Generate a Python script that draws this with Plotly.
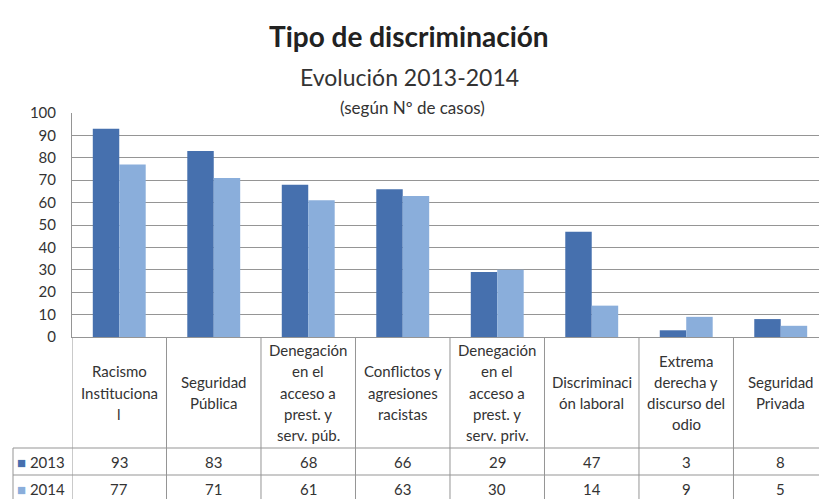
import plotly.graph_objects as go

# data
categories = [
    "Racismo<br>Instituciona<br>l",
    "Seguridad<br>Pública",
    "Denegación<br>en el<br>acceso a<br>prest. y<br>serv. púb.",
    "Conflictos y<br>agresiones<br>racistas",
    "Denegación<br>en el<br>acceso a<br>prest. y<br>serv. priv.",
    "Discriminaci<br>ón laboral",
    "Extrema<br>derecha y<br>discurso del<br>odio",
    "Seguridad<br>Privada",
]
years = ["2013", "2014"]
casos_2013 = [93, 83, 68, 66, 29, 47, 3, 8]
casos_2014 = [77, 71, 61, 63, 30, 14, 9, 5]

colors = {"2013": "#4670AE", "2014": "#8AAEDB"}
FONT = "Lato, 'Open Sans', sans-serif"
TXT = "#333333"
LINE = "#959595"

x = list(range(len(categories)))
fig = go.Figure()
for yr, vals in zip(years, [casos_2013, casos_2014]):
    fig.add_trace(go.Bar(x=x, y=vals, name=yr, marker_color=colors[yr],
                         marker_line_width=0))

# pixel -> paper helpers (plot area 72..819 x, 113..337 y)
def py(px):
    return (337 - px) / 224.0

def pxx(px):
    return (px - 72) / 747.0

ann = []
# titles
ann.append(dict(text="<b>Tipo de discriminación</b>", x=pxx(409), y=py(36),
                font=dict(size=28, color="#222")))
ann.append(dict(text="Evolución 2013-2014", x=pxx(409), y=py(77),
                font=dict(size=23, color="#333")))
ann.append(dict(text="(según Nº de casos)", x=pxx(412), y=py(107),
                font=dict(size=17, color="#333")))
for a in ann:
    a.update(xref="paper", yref="paper", showarrow=False,
             xanchor="center", yanchor="middle")

# table header: category labels
for i, cat in enumerate(categories):
    lines = cat.split("<br>")
    n = len(lines)
    for j, ln in enumerate(lines):
        ann.append(dict(text=ln, x=i, xref="x", y=py(392.5), yref="paper",
                        yshift=-(j - (n - 1) / 2) * 21.3, showarrow=False,
                        xanchor="center", yanchor="middle",
                        font=dict(size=15, color=TXT, family=FONT)))

# table rows: values
row_y = {"2013": py(462), "2014": py(489)}
for yr, vals in zip(years, [casos_2013, casos_2014]):
    ann.append(dict(text=f"<span style='color:{colors[yr]}'>■</span> {yr}",
                    x=pxx(15), xref="paper", y=row_y[yr], yref="paper",
                    xanchor="left", yanchor="middle", showarrow=False,
                    font=dict(size=15, color=TXT, family=FONT)))
    for i, v in enumerate(vals):
        ann.append(dict(text=str(v), x=i, xref="x", y=row_y[yr], yref="paper",
                        xanchor="center", yanchor="middle", showarrow=False,
                        font=dict(size=15, color=TXT, family=FONT)))

# table borders
shapes = []
for k in range(len(categories) + 1):
    shapes.append(dict(type="line", xref="x", yref="paper", x0=k - 0.5, x1=k - 0.5,
                       y0=0, y1=py(510), line=dict(color=LINE, width=1)))
for yy in [448, 475]:
    shapes.append(dict(type="line", xref="paper", yref="paper", x0=pxx(13), x1=1,
                       y0=py(yy), y1=py(yy), line=dict(color=LINE, width=1)))
shapes.append(dict(type="line", xref="paper", yref="paper", x0=pxx(13), x1=pxx(13),
                   y0=py(448), y1=py(510), line=dict(color=LINE, width=1)))

fig.update_layout(
    width=819, height=499,
    margin=dict(l=72, r=0, t=113, b=162),
    paper_bgcolor="white", plot_bgcolor="white",
    barmode="group", bargap=0.44, bargroupgap=0,
    showlegend=False,
    font=dict(family=FONT, color=TXT, size=13),
    annotations=ann, shapes=shapes,
    xaxis=dict(range=[-0.5, 7.405], showticklabels=False, showgrid=False,
               zeroline=False, showline=True, linecolor=LINE, linewidth=1),
    yaxis=dict(range=[0, 100], dtick=10, showgrid=True, gridcolor=LINE,
               gridwidth=1, zeroline=False, showline=True, linecolor=LINE,
               linewidth=1, ticklabelstandoff=12,
               tickfont=dict(size=15, color=TXT, family=FONT)),
)

# the page body has a default 8px margin; drop it so the chart fills the window
fig.write_html("out.html", config={"displayModeBar": False},
               post_script="document.body.style.margin='0';")
